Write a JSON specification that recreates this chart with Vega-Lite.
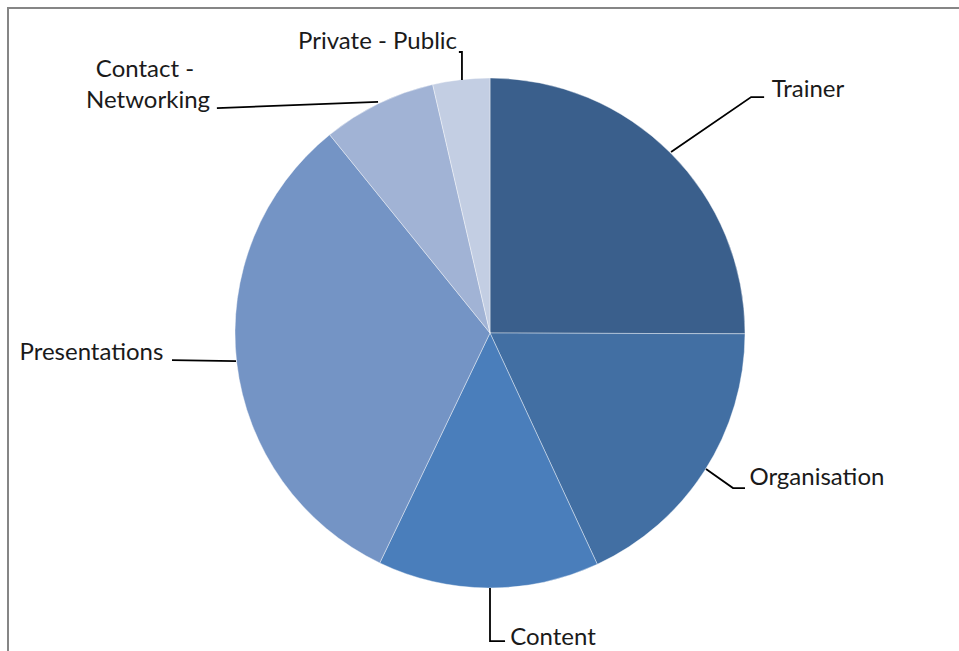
{
  "$schema": "https://vega.github.io/schema/vega-lite/v6.json",
  "width": 964,
  "height": 650,
  "autosize": {"type": "none"},
  "padding": {"left": 8, "top": 8, "right": 0, "bottom": 0},
  "background": "white",
  "config": {"view": {"stroke": "#868686", "strokeWidth": 2}},
  "datasets": {
    "slices": [
      {"category": "Trainer", "share": 25, "order": 1},
      {"category": "Organisation", "share": 18, "order": 2},
      {"category": "Content", "share": 14, "order": 3},
      {"category": "Presentations", "share": 32, "order": 4},
      {"category": "Contact - Networking", "share": 7.2, "order": 5},
      {"category": "Private - Public", "share": 3.6, "order": 6}
    ],
    "leaders": [
      {"category": "Trainer", "step": 1, "x": 0.71, "y": 0.71},
      {"category": "Trainer", "step": 2, "x": 1.024, "y": 0.925},
      {"category": "Trainer", "step": 3, "x": 1.075, "y": 0.925},
      {"category": "Organisation", "step": 1, "x": 0.847, "y": -0.533},
      {"category": "Organisation", "step": 2, "x": 0.953, "y": -0.608},
      {"category": "Organisation", "step": 3, "x": 1.0, "y": -0.608},
      {"category": "Content", "step": 1, "x": 0.0, "y": -1.0},
      {"category": "Content", "step": 2, "x": 0.0, "y": -1.208},
      {"category": "Content", "step": 3, "x": 0.059, "y": -1.208},
      {"category": "Presentations", "step": 1, "x": -0.996, "y": -0.11},
      {"category": "Presentations", "step": 2, "x": -1.247, "y": -0.106},
      {"category": "Contact - Networking", "step": 1, "x": -0.439, "y": 0.906},
      {"category": "Contact - Networking", "step": 2, "x": -1.071, "y": 0.882},
      {"category": "Private - Public", "step": 1, "x": -0.11, "y": 0.992},
      {"category": "Private - Public", "step": 2, "x": -0.11, "y": 1.102},
      {"category": "Private - Public", "step": 3, "x": -0.122, "y": 1.102}
    ],
    "labels": [
      {"text": "Trainer", "x": 1.247, "y": 0.953},
      {"text": "Organisation", "x": 1.282, "y": -0.569},
      {"text": "Content", "x": 0.247, "y": -1.196},
      {"text": "Presentations", "x": -1.563, "y": -0.078},
      {"text": "Contact -", "x": -1.353, "y": 1.031},
      {"text": "Networking", "x": -1.341, "y": 0.91},
      {"text": "Private - Public", "x": -0.441, "y": 1.141}
    ]
  },
  "layer": [
    {
      "data": {"name": "slices"},
      "mark": {"type": "arc", "outerRadius": 255, "stroke": "white", "strokeWidth": 0.8, "strokeOpacity": 0.5},
      "encoding": {
        "theta": {"field": "share", "type": "quantitative", "stack": true},
        "order": {"field": "order", "type": "quantitative"},
        "color": {
          "field": "category",
          "type": "nominal",
          "scale": {
            "domain": ["Trainer", "Organisation", "Content", "Presentations", "Contact - Networking", "Private - Public"],
            "range": ["#3A5F8C", "#426FA3", "#4A7EBB", "#7494C5", "#A1B3D5", "#C3CEE3"]
          },
          "legend": null
        }
      }
    },
    {
      "data": {"name": "leaders"},
      "mark": {"type": "line", "color": "black", "strokeWidth": 1.8},
      "encoding": {
        "x": {"field": "x", "type": "quantitative", "scale": {"domain": [-1.8902, 1.8902], "nice": false, "zero": false}, "axis": null},
        "y": {"field": "y", "type": "quantitative", "scale": {"domain": [-1.2745, 1.2745], "nice": false, "zero": false}, "axis": null},
        "detail": {"field": "category", "type": "nominal"},
        "order": {"field": "step", "type": "quantitative"}
      }
    },
    {
      "data": {"name": "labels"},
      "mark": {"type": "text", "font": "Lato", "fontSize": 24, "color": "#1a1a1a", "align": "center", "baseline": "middle"},
      "encoding": {
        "x": {"field": "x", "type": "quantitative", "scale": {"domain": [-1.8902, 1.8902], "nice": false, "zero": false}, "axis": null},
        "y": {"field": "y", "type": "quantitative", "scale": {"domain": [-1.2745, 1.2745], "nice": false, "zero": false}, "axis": null},
        "text": {"field": "text", "type": "nominal"}
      }
    }
  ]
}
